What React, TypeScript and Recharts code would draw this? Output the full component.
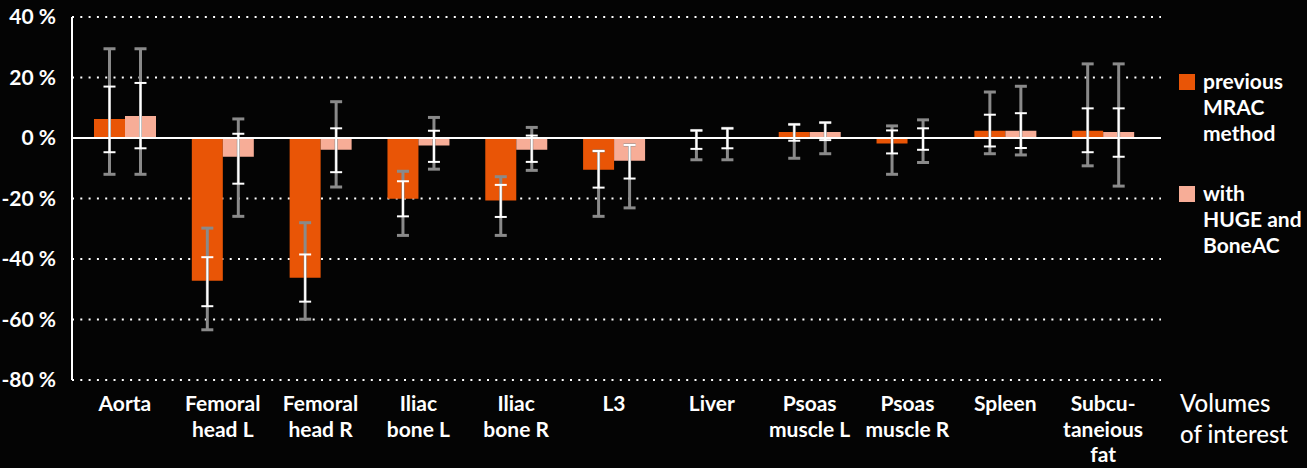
import {
  BarChart,
  Bar,
  XAxis,
  YAxis,
  CartesianGrid,
  ReferenceLine,
  ErrorBar,
  Legend,
} from 'recharts';

const FONT = "Lato, 'Noto Sans', sans-serif";
const ORANGE = '#E95506';
const PINK = '#F7AD97';
const GREY = '#8A8A8A';

const categories = [
  'Aorta',
  'Femoral\nhead L',
  'Femoral\nhead R',
  'Iliac\nbone L',
  'Iliac\nbone R',
  'L3',
  'Liver',
  'Psoas\nmuscle L',
  'Psoas\nmuscle R',
  'Spleen',
  'Subcu-\ntaneious\nfat',
];

// mean deviation in %
const previousMean = [6.3, -47.2, -46.2, -20.1, -20.7, -10.5, 0.2, 2.0, -1.8, 2.4, 2.4];
const hugeMean = [7.3, -6.2, -3.9, -2.5, -3.9, -7.5, 0.2, 2.0, 0.2, 2.4, 2.0];

// [low, high] of the white bars (inner)
const previousInner = [
  [-4.7, 17], [-55.6, -39.4], [-54.1, -38.5], [-25.9, -14.3], [-26.1, -15.5],
  [-16.4, -4.3], [-3.6, 2.5], [-0.9, 4.5], [-5.1, 2.5], [-2.8, 7.7], [-4.7, 9.8],
];
const hugeInner = [
  [-3.4, 18.2], [-15.1, 1.4], [-11.3, 3.2], [-7.9, 2.4], [-7.9, 0.8],
  [-13.4, -2.3], [-3.4, 3.2], [-0.7, 5.1], [-3.9, 3.2], [-3.3, 8.2], [-6.2, 9.8],
];

// [low, high] of the grey bars (outer)
const previousOuter = [
  [-12, 29.5], [-63.4, -29.8], [-59.9, -28], [-32.2, -11], [-32.2, -12.8],
  [-25.9, -4.3], [-7.2, 2.5], [-6.7, 4.5], [-12, 4], [-5.2, 15.2], [-9.2, 24.5],
];
const hugeOuter = [
  [-12, 29.5], [-25.9, 6.3], [-16.2, 12], [-10.3, 6.8], [-10.7, 3.5],
  [-23.1, -2.3], [-7.2, 3.2], [-5.2, 5.1], [-8.1, 6], [-5.6, 17.1], [-15.9, 24.5],
];

const yTicks = [-80, -60, -40, -20, 0, 20, 40];

const legendItems = [
  { label: ['previous', 'MRAC', 'method'], color: ORANGE },
  { label: ['with', 'HUGE and', 'BoneAC'], color: PINK },
];

const axisTitle = ['Volumes', 'of interest'];

// ErrorBar wants deltas from the bar value
const toDelta = (value: number, range: number[]) => [value - range[0], range[1] - value];

const data = categories.map((name, i) => ({
  name,
  previous: previousMean[i],
  huge: hugeMean[i],
  previousInner: toDelta(previousMean[i], previousInner[i]),
  previousOuter: toDelta(previousMean[i], previousOuter[i]),
  hugeInner: toDelta(hugeMean[i], hugeInner[i]),
  hugeOuter: toDelta(hugeMean[i], hugeOuter[i]),
}));

function CategoryTick({ x, y, payload }: any) {
  const lines = String(payload.value).split('\n');
  return (
    <text
      x={x}
      y={y}
      textAnchor="middle"
      fill="#fff"
      fontFamily={FONT}
      fontSize={21}
      fontWeight={700}
    >
      {lines.map((line, i) => (
        <tspan key={i} x={x} dy={i === 0 ? 31 : 25.5}>
          {line}
        </tspan>
      ))}
    </text>
  );
}

function AxisTitle({ viewBox }: any) {
  const x = viewBox.x + viewBox.width + 19;
  return (
    <text x={x} y={viewBox.y} fill="#fff" fontFamily={FONT} fontSize={24} fontWeight={500}>
      {axisTitle.map((line, i) => (
        <tspan key={i} x={x} dy={i === 0 ? 31.5 : 31.5}>
          {line}
        </tspan>
      ))}
    </text>
  );
}

function LegendBox() {
  return (
    <div style={{ fontFamily: FONT, fontSize: 21, fontWeight: 700, color: '#fff', lineHeight: '26px' }}>
      {legendItems.map((item) => (
        <div key={item.color} style={{ position: 'relative', paddingLeft: 24, marginBottom: 34 }}>
          <span
            style={{
              position: 'absolute',
              left: 0,
              top: 6,
              width: 16,
              height: 16,
              background: item.color,
            }}
          />
          {item.label.map((l) => (
            <div key={l}>{l}</div>
          ))}
        </div>
      ))}
    </div>
  );
}

export default function App() {
  return (
    <div
      style={{
        position: 'absolute',
        left: 0,
        top: 0,
        width: 1307,
        height: 468,
        background: '#040404',
      }}
    >
      <BarChart
        width={1307}
        height={468}
        data={data}
        margin={{ top: 17, right: 146, bottom: 0, left: 0 }}
        barCategoryGap={18}
        barGap={0}
      >
        <CartesianGrid
          vertical={false}
          stroke="#fff"
          strokeWidth={2}
          strokeDasharray="2 6.3"
        />
        <XAxis
          dataKey="name"
          height={88}
          axisLine={false}
          tickLine={false}
          tickSize={0}
          tickMargin={0}
          interval={0}
          padding={{ left: 4, right: 9 }}
          tick={<CategoryTick />}
          label={<AxisTitle />}
        />
        <YAxis
          width={72}
          domain={[-80, 40]}
          ticks={yTicks}
          interval={0}
          allowDataOverflow
          axisLine={{ stroke: '#fff', strokeWidth: 2 }}
          tickLine={false}
          tickSize={6}
          tickMargin={10}
          tickFormatter={(v) => `${v} %`}
          tick={{ fill: '#fff', fontFamily: FONT, fontSize: 21, fontWeight: 700 }}
        />
        <Legend
          layout="horizontal"
          verticalAlign="middle"
          align="center"
          width={130}
          wrapperStyle={{ left: 1179, top: 68 }}
          content={<LegendBox />}
        />
        <Bar dataKey="previous" fill={ORANGE} isAnimationActive={false}>
          <ErrorBar dataKey="previousOuter" stroke={GREY} strokeWidth={3} width={6} isAnimationActive={false} />
          <ErrorBar dataKey="previousInner" stroke="#fff" strokeWidth={2} width={6} isAnimationActive={false} />
        </Bar>
        <Bar dataKey="huge" fill={PINK} isAnimationActive={false}>
          <ErrorBar dataKey="hugeOuter" stroke={GREY} strokeWidth={3} width={6} isAnimationActive={false} />
          <ErrorBar dataKey="hugeInner" stroke="#fff" strokeWidth={2} width={6} isAnimationActive={false} />
        </Bar>
        <ReferenceLine y={0} stroke="#fff" strokeWidth={2} />
      </BarChart>
    </div>
  );
}
